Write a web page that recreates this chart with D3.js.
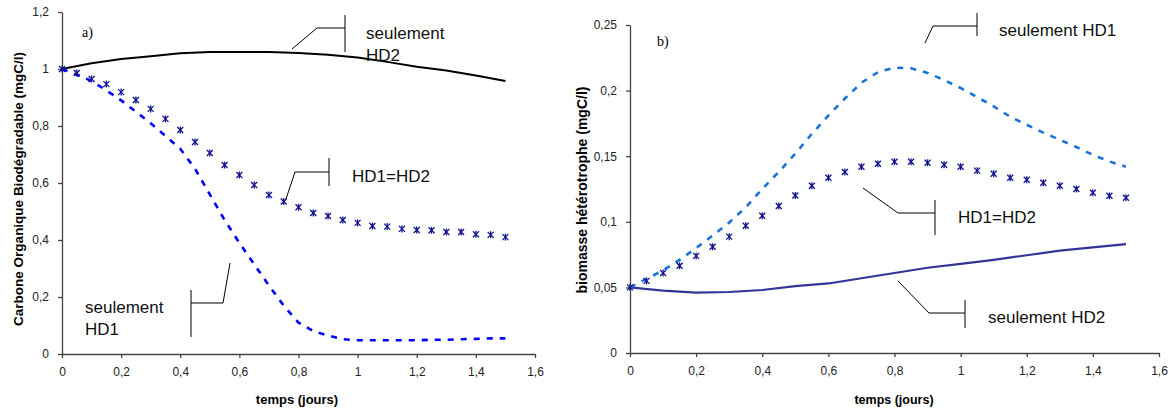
<!DOCTYPE html>
<html>
<head>
<meta charset="utf-8">
<script src="https://cdn.jsdelivr.net/npm/d3@7"></script>
<style>
  body { margin: 0; background: #fff; }
</style>
</head>
<body>
<div id="chart"></div>
<script>
// time steps (jours)
var temps = [0,0.05,0.1,0.15,0.2,0.25,0.3,0.35,0.4,0.45,0.5,0.55,0.6,0.65,0.7,0.75,
             0.8,0.85,0.9,0.95,1,1.05,1.1,1.15,1.2,1.25,1.3,1.35,1.4,1.45,1.5];
var tempsLine = [0,0.1,0.2,0.3,0.4,0.5,0.6,0.7,0.8,0.9,1,1.1,1.2,1.3,1.4,1.5];

// a) Carbone Organique Biodegradable
var cobHD2 = [1,1.02,1.035,1.045,1.055,1.06,1.06,1.06,1.056,1.05,1.04,1.025,1.008,0.995,0.977,0.958];
var cobHD1 = [1,0.98,0.958,0.925,0.89,0.85,0.81,0.765,0.72,0.65,0.56,0.47,0.39,0.315,0.24,0.17,
              0.11,0.08,0.065,0.052,0.048,0.048,0.048,0.048,0.048,0.05,0.05,0.052,0.053,0.055,0.055];
var cobBoth = [1,0.986,0.965,0.947,0.919,0.891,0.86,0.825,0.786,0.744,0.705,0.663,0.628,0.593,0.558,0.535,
               0.515,0.495,0.484,0.47,0.46,0.449,0.447,0.439,0.435,0.434,0.428,0.428,0.42,0.418,0.41];

// b) biomasse heterotrophe
var bioHD1 = [0.05,0.0565,0.063,0.071,0.08,0.0895,0.0995,0.111,0.125,0.138,0.152,0.167,0.181,0.194,0.206,0.214,
              0.2175,0.217,0.2135,0.208,0.202,0.195,0.188,0.18,0.174,0.168,0.1625,0.157,0.151,0.146,0.142];
var bioBoth = [0.05,0.055,0.061,0.0665,0.074,0.081,0.0887,0.097,0.1046,0.112,0.12,0.1275,0.1336,0.138,0.142,0.1443,
               0.1458,0.1458,0.145,0.1435,0.142,0.139,0.1366,0.1336,0.132,0.1298,0.1275,0.125,0.1221,0.1198,0.1183];
var bioHD2 = [0.05,0.0475,0.046,0.0465,0.048,0.051,0.053,0.057,0.061,0.065,0.068,0.071,0.0745,0.078,0.0805,0.083];

var xTicks = [0,0.2,0.4,0.6,0.8,1,1.2,1.4,1.6];
var yTicksA = [0,0.2,0.4,0.6,0.8,1,1.2];
var yTicksB = [0,0.05,0.1,0.15,0.2,0.25];

var sans = "'Liberation Sans', Arial, sans-serif";
var fmt = function(d) { return String(d).replace(".", ","); };

var svg = d3.select("#chart").append("svg")
    .attr("width", 1174)
    .attr("height", 412)
    .style("font-family", sans);

// draw one panel
var drawPanel = function(p) {
    var x = d3.scaleLinear().domain([0, 1.6]).range([p.left, p.right]);
    var y = d3.scaleLinear().domain([0, p.yMax]).range([p.bottom, p.top]);
    var g = svg.append("g");

    var xAxis = g.append("g")
        .attr("transform", "translate(0," + p.bottom + ")")
        .call(d3.axisBottom(x).tickValues(xTicks).tickFormat(fmt).tickSize(4).tickSizeOuter(0));
    var yAxis = g.append("g")
        .attr("transform", "translate(" + p.left + ",0)")
        .call(d3.axisLeft(y).tickValues(p.yTicks).tickFormat(fmt).tickSize(4).tickSizeOuter(0));
    [xAxis, yAxis].forEach(function(a) {
        a.attr("font-family", sans);
        a.select(".domain").attr("stroke", "#444").attr("stroke-width", 1.3);
        a.selectAll(".tick line").attr("stroke", "#444").attr("stroke-width", 1.3);
        a.selectAll(".tick text").attr("font-size", 12).attr("fill", "#222");
    });
    xAxis.selectAll(".tick text").attr("dy", "1.25em");
    yAxis.selectAll(".tick text").attr("dx", "-0.5em");

    // axis titles
    g.append("text")
        .attr("x", p.xTitleX).attr("y", 404)
        .attr("text-anchor", "middle").attr("font-size", p.xTitleSize).attr("font-weight", "bold")
        .text("temps (jours)");
    g.append("text")
        .attr("transform", "translate(" + p.yTitleX + "," + p.yTitleY + ") rotate(-90)")
        .attr("text-anchor", "middle").attr("font-size", p.yTitleSize).attr("font-weight", "bold")
        .text(p.yTitle);

    g.append("text")
        .attr("x", p.tagX).attr("y", p.tagY)
        .style("font-family", "'Liberation Serif', 'Times New Roman', serif")
        .attr("font-size", 14).text(p.tag);

    var line = function(xs) {
        return d3.line().x(function(d, i) { return x(xs[i]); }).y(function(d) { return y(d); });
    };

    p.series.forEach(function(s) {
        var xs = s.xs;
        if (s.type == "star") {
            var m = g.selectAll(null).data(s.values).enter().append("g")
                .attr("transform", function(d, i) { return "translate(" + x(xs[i]) + "," + y(d) + ")"; })
                .attr("stroke", s.color).attr("stroke-width", 1.3);
            m.append("line").attr("x1", -3).attr("y1", -3).attr("x2", 3).attr("y2", 3);
            m.append("line").attr("x1", -3).attr("y1", 3).attr("x2", 3).attr("y2", -3);
            m.append("line").attr("x1", 0).attr("y1", -3.5).attr("x2", 0).attr("y2", 3.5);
        } else {
            g.append("path")
                .datum(s.values)
                .attr("d", line(xs))
                .attr("fill", "none")
                .attr("stroke", s.color)
                .attr("stroke-width", s.width)
                .attr("stroke-dasharray", s.dash || null);
        }
    });

    // callouts
    p.notes.forEach(function(n) {
        g.append("path")
            .attr("d", "M" + n.pts.map(function(q) { return q.join(","); }).join("L"))
            .attr("fill", "none").attr("stroke", "#000").attr("stroke-width", 1);
        g.append("line")
            .attr("x1", n.bar[0]).attr("y1", n.bar[1]).attr("x2", n.bar[0]).attr("y2", n.bar[2])
            .attr("stroke", "#000").attr("stroke-width", 1);
        n.lines.forEach(function(t, i) {
            g.append("text").attr("x", n.tx).attr("y", n.ty + i * 22)
                .attr("font-size", 17).attr("fill", "#111").text(t);
        });
    });
};

drawPanel({
    left: 62, right: 535, top: 12, bottom: 354, yMax: 1.2, yTicks: yTicksA,
    yTitle: "Carbone Organique Biodégradable (mgC/l)", yTitleX: 23, yTitleY: 189, yTitleSize: 13.5,
    xTitleX: 297, xTitleSize: 13,
    tag: "a)", tagX: 82, tagY: 37,
    series: [
        { xs: tempsLine, values: cobHD2, color: "#000", width: 2 },
        { xs: temps, values: cobHD1, color: "#0000ff", width: 2.6, dash: "6,7" },
        { xs: temps, values: cobBoth, color: "#10108f", type: "star" }
    ],
    notes: [
        { pts: [[292,49],[317,28],[345,28]], bar: [345,15,52], lines: ["seulement", "HD2"], tx: 366, ty: 39 },
        { pts: [[286,199],[295,172],[329,172]], bar: [329,158,186], lines: ["HD1=HD2"], tx: 352, ty: 182 },
        { pts: [[230,263],[223,303],[191,303]], bar: [191,290,337], lines: ["seulement", "HD1"], tx: 85, ty: 313 }
    ]
});

drawPanel({
    left: 630, right: 1159, top: 25, bottom: 353, yMax: 0.25, yTicks: yTicksB,
    yTitle: "biomasse hétérotrophe (mgC/l)", yTitleX: 587, yTitleY: 190, yTitleSize: 14,
    xTitleX: 894, xTitleSize: 12.5,
    tag: "b)", tagX: 657, tagY: 46,
    series: [
        { xs: tempsLine, values: bioHD2, color: "#333399", width: 2.2 },
        { xs: temps, values: bioHD1, color: "#1a72d6", width: 2.6, dash: "6,7" },
        { xs: temps, values: bioBoth, color: "#10108f", type: "star" }
    ],
    notes: [
        { pts: [[925,43],[933,26],[977,26]], bar: [977,13,36], lines: ["seulement HD1"], tx: 999, ty: 36 },
        { pts: [[863,188],[898,213],[935,213]], bar: [935,200,235], lines: ["HD1=HD2"], tx: 958, ty: 223 },
        { pts: [[898,281],[929,313],[965,313]], bar: [965,300,328], lines: ["seulement HD2"], tx: 988, ty: 323 }
    ]
});
</script>
</body>
</html>
